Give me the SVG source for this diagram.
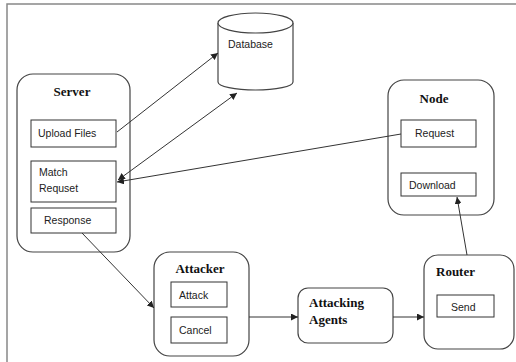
<svg xmlns="http://www.w3.org/2000/svg" width="516" height="362" viewBox="0 0 516 362">
<defs>
<marker id="ah" viewBox="0 0 10 10" refX="10" refY="5" markerWidth="7" markerHeight="7" markerUnits="userSpaceOnUse" orient="auto-start-reverse">
<path d="M0,0 L10,5 L0,10 z" fill="#222"/>
</marker>
<style>
.outer{fill:#fff;stroke:#444;stroke-width:1.2}
.inner{fill:#fff;stroke:#333;stroke-width:1}
.lbl{font-family:"Liberation Sans","DejaVu Sans",sans-serif;font-size:10.5px;fill:#222}
.ttl{font-family:"Liberation Serif","DejaVu Serif",serif;font-size:13px;font-weight:bold;fill:#111}
.con{stroke:#333;stroke-width:1;fill:none;marker-end:url(#ah)}
</style>
</defs>
<rect width="516" height="362" fill="#fff"/>
<path d="M7,362 L7,4 L516,4" fill="none" stroke="#888" stroke-width="1.5"/>

<g id="database">
<path d="M218,23 L218,82 A37.5,8 0 0 0 293,82 L293,23" class="outer"/>
<ellipse cx="255.5" cy="23" rx="37.5" ry="10" class="outer"/>
<text x="228" y="48" class="lbl">Database</text>
</g>

<g id="server">
<rect x="17" y="74" width="113" height="178" rx="16" class="outer"/>
<text x="72" y="96" class="ttl" text-anchor="middle">Server</text>
<rect x="31" y="120" width="85" height="27" class="inner"/>
<text x="38" y="137" class="lbl">Upload Files</text>
<rect x="31" y="161" width="85" height="41" class="inner"/>
<text x="39" y="176" class="lbl">Match</text>
<text x="39" y="192" class="lbl">Requset</text>
<rect x="31" y="208" width="85" height="25" class="inner"/>
<text x="44" y="224" class="lbl">Response</text>
</g>

<g id="node">
<rect x="388" y="80" width="106" height="135" rx="16" class="outer"/>
<text x="434" y="103" class="ttl" text-anchor="middle">Node</text>
<rect x="401" y="120" width="75" height="27" class="inner"/>
<text x="415" y="137" class="lbl">Request</text>
<rect x="401" y="173" width="75" height="23" class="inner"/>
<text x="409" y="189" class="lbl">Download</text>
</g>

<g id="attacker">
<rect x="154" y="252" width="95" height="104" rx="16" class="outer"/>
<text x="200" y="273" class="ttl" text-anchor="middle">Attacker</text>
<rect x="171" y="282" width="56" height="25" class="inner"/>
<text x="179" y="299" class="lbl">Attack</text>
<rect x="171" y="317" width="56" height="26" class="inner"/>
<text x="179" y="334" class="lbl">Cancel</text>
</g>

<g id="attacking-agents">
<rect x="298" y="288" width="95" height="55" rx="10" class="outer"/>
<text x="309" y="307" class="ttl">Attacking</text>
<text x="309" y="324" class="ttl">Agents</text>
</g>

<g id="router">
<rect x="424" y="255" width="90" height="94" rx="14" class="outer"/>
<text x="436" y="276" class="ttl">Router</text>
<rect x="437" y="295" width="57" height="22" class="inner"/>
<text x="451" y="311" class="lbl">Send</text>
</g>

<g id="connectors">
<line x1="117" y1="132" x2="218" y2="53" class="con"/>
<line x1="118" y1="180" x2="237" y2="93" class="con" style="marker-start:url(#ah)"/>
<line x1="401" y1="134" x2="117" y2="182" class="con"/>
<line x1="82" y1="233" x2="154" y2="308" class="con"/>
<line x1="249" y1="317" x2="298" y2="317" class="con"/>
<line x1="393" y1="317" x2="424" y2="317" class="con"/>
<line x1="467" y1="255" x2="457" y2="197" class="con"/>
</g>
</svg>
